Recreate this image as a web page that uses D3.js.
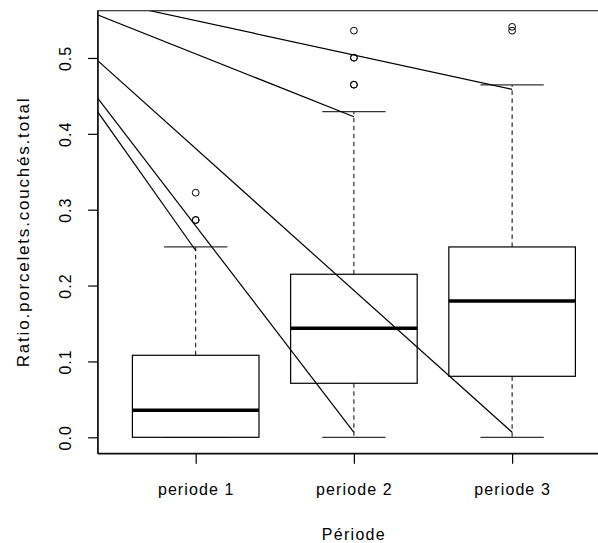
<!DOCTYPE html>
<html>
<head>
<meta charset="utf-8">
<script src="https://cdn.jsdelivr.net/npm/d3@7"></script>
<style>
  html, body { margin: 0; padding: 0; background: #fff; }
  svg { display: block; }
  text { font-family: "Liberation Sans", Arial, Helvetica, sans-serif; fill: #000; }
</style>
</head>
<body>
<svg id="chart" width="598" height="543"></svg>
<script>
// ---- data ----
const categories = ["periode 1", "periode 2", "periode 3"];
const lowerWhisker = [0, 0, 0];
const q1 = [0, 0.0712, 0.0804];
const median = [0.0356, 0.1437, 0.1797];
const q3 = [0.1081, 0.2149, 0.2509];
const upperWhisker = [0.2509, 0.4292, 0.4644];
const outlierCat = [1, 1, 1, 2, 2, 2, 2, 2, 3, 3];
const outlierVal = [0.3224, 0.2864, 0.2864, 0.536, 0.5004, 0.5004, 0.4648, 0.4648, 0.541, 0.536];
// overlaid straight segments (data units)
const segX0 = [0, 0, 0, 0, 0];
const segY0 = [0.5945, 0.5882, 0.5676, 0.5507, 0.5413];
const segX1 = [3, 2, 3, 2, 1];
const segY1 = [0.4587, 0.4226, 0.0066, 0.0066, 0.2462];
const yTicks = [0, 0.1, 0.2, 0.3, 0.4, 0.5];
const xTitle = "Période";
const yTitle = "Ratio.porcelets.couchés.total";

// ---- layout ----
const svg = d3.select("#chart");
const plotL = 97.6, plotR = 610.2, plotT = 10.7, plotB = 453.3;
const x = d3.scaleLinear().domain([0.38, 3.62]).range([plotL, plotR]);
const y = d3.scaleLinear().domain([-0.0211, 0.5623]).range([plotB, plotT]);
const boxW = 0.8, capW = 0.4;

svg.append("defs").append("clipPath").attr("id", "clip")
  .append("rect").attr("x", plotL).attr("y", plotT)
  .attr("width", plotR - plotL).attr("height", plotB - plotT);

const g = svg.append("g");
const idx = categories.map((d, i) => i);

// whiskers (dashed)
g.selectAll("line.wh-up").data(idx).enter().append("line")
  .attr("x1", i => x(i + 1)).attr("x2", i => x(i + 1))
  .attr("y1", i => y(q3[i])).attr("y2", i => y(upperWhisker[i]))
  .attr("stroke", "#000").attr("stroke-width", 1).attr("stroke-dasharray", "4.5,3.5");
g.selectAll("line.wh-lo").data(idx.filter(i => q1[i] > lowerWhisker[i])).enter().append("line")
  .attr("x1", i => x(i + 1)).attr("x2", i => x(i + 1))
  .attr("y1", i => y(q1[i])).attr("y2", i => y(lowerWhisker[i]))
  .attr("stroke", "#000").attr("stroke-width", 1).attr("stroke-dasharray", "4.5,3.5");
// caps
g.selectAll("line.cap-up").data(idx).enter().append("line")
  .attr("x1", i => x(i + 1 - capW / 2)).attr("x2", i => x(i + 1 + capW / 2))
  .attr("y1", i => y(upperWhisker[i])).attr("y2", i => y(upperWhisker[i]))
  .attr("stroke", "#333").attr("stroke-width", 1.2);
g.selectAll("line.cap-lo").data(idx).enter().append("line")
  .attr("x1", i => x(i + 1 - capW / 2)).attr("x2", i => x(i + 1 + capW / 2))
  .attr("y1", i => y(lowerWhisker[i])).attr("y2", i => y(lowerWhisker[i]))
  .attr("stroke", "#333").attr("stroke-width", 1.2);
// boxes
g.selectAll("rect.box").data(idx).enter().append("rect")
  .attr("x", i => x(i + 1 - boxW / 2)).attr("width", i => x(i + 1 + boxW / 2) - x(i + 1 - boxW / 2))
  .attr("y", i => y(q3[i])).attr("height", i => y(q1[i]) - y(q3[i]))
  .attr("fill", "#fff").attr("stroke", "#000").attr("stroke-width", 1.2);
// medians
g.selectAll("line.med").data(idx).enter().append("line")
  .attr("x1", i => x(i + 1 - boxW / 2)).attr("x2", i => x(i + 1 + boxW / 2))
  .attr("y1", i => y(median[i])).attr("y2", i => y(median[i]))
  .attr("stroke", "#000").attr("stroke-width", 3.4);
// outliers
g.selectAll("circle.out").data(outlierVal.map((v, k) => k)).enter().append("circle")
  .attr("cx", k => x(outlierCat[k])).attr("cy", k => y(outlierVal[k]))
  .attr("r", 3.4).attr("fill", "none").attr("stroke", "#000").attr("stroke-width", 1);

// overlaid segments
svg.append("g").attr("clip-path", "url(#clip)")
  .selectAll("line.seg").data(segY0.map((v, k) => k)).enter().append("line")
  .attr("x1", k => x(segX0[k])).attr("y1", k => y(segY0[k]))
  .attr("x2", k => x(segX1[k])).attr("y2", k => y(segY1[k]))
  .attr("stroke", "#000").attr("stroke-width", 1.2);

// plot frame
svg.append("rect").attr("x", plotL).attr("y", plotT)
  .attr("width", plotR - plotL).attr("height", plotB - plotT)
  .attr("fill", "none").attr("stroke", "#333").attr("stroke-width", 1.2);

// y axis
const yAxis = d3.axisLeft(y).tickValues(yTicks).tickFormat(d3.format(".1f")).tickSize(9.5).tickSizeOuter(0);
const ya = svg.append("g").attr("transform", `translate(${plotL},0)`).call(yAxis);
ya.select(".domain").attr("stroke", "#000").attr("stroke-width", 1.2);
ya.selectAll(".tick line").attr("stroke", "#000").attr("stroke-width", 1.2);
ya.selectAll(".tick text")
  .attr("x", null).attr("dy", null)
  .attr("transform", `translate(${71 - plotL},0) rotate(-90)`)
  .attr("text-anchor", "middle")
  .style("font-size", "16px").style("letter-spacing", "1px")
  .style("font-family", "'Liberation Sans', Arial, sans-serif");

// x axis
const xAxis = d3.axisBottom(x).tickValues([1, 2, 3]).tickFormat((d) => categories[d - 1]).tickSize(10.5).tickSizeOuter(0);
const xa = svg.append("g").attr("transform", `translate(0,${plotB})`).call(xAxis);
xa.select(".domain").attr("stroke", "#000").attr("stroke-width", 1.2);
xa.selectAll(".tick line").attr("stroke", "#000").attr("stroke-width", 1.2);
xa.selectAll(".tick text")
  .attr("y", 495 - plotB).attr("dy", null)
  .style("font-size", "16px").style("letter-spacing", "1.1px")
  .style("font-family", "'Liberation Sans', Arial, sans-serif");

// titles
svg.append("text").attr("x", x(2)).attr("y", 540)
  .attr("text-anchor", "middle").style("font-size", "16px").style("letter-spacing", "1.3px")
  .text(xTitle);
svg.append("text").attr("transform", `translate(28.5,${(plotT + plotB) / 2}) rotate(-90)`)
  .attr("text-anchor", "middle").style("font-size", "17px").style("letter-spacing", "1.8px")
  .text(yTitle);
</script>
</body>
</html>
